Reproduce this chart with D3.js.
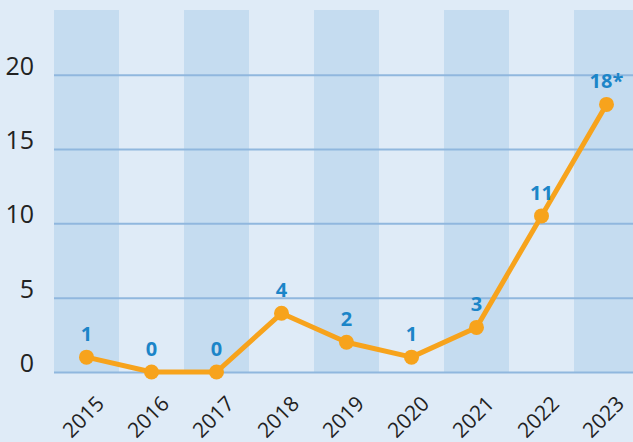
<!DOCTYPE html>
<html><head><meta charset="utf-8">
<script src="https://cdn.jsdelivr.net/npm/d3@7"></script>
<style>html,body{margin:0;padding:0;background:#dfebf7;overflow:hidden}</style>
</head><body>
<script>
const years = ["2015","2016","2017","2018","2019","2020","2021","2022","2023"];
const values = [1, 0, 0, 3.95, 2, 1, 3, 10.5, 18];
const valueLabels = ["1","0","0","4","2","1","3","11","18*"];
const yTicks = [0, 5, 10, 15, 20];

const W = 633, H = 442;
const svg = d3.select("body").append("svg").attr("width", W).attr("height", H);
svg.append("rect").attr("width", W).attr("height", H).attr("fill", "#dfebf7");

const x = d3.scaleBand().domain(years).range([54, 639]).padding(0);
const y = d3.scaleLinear().domain([0, 24.35]).range([372, 10]);

// alternating bands
svg.append("g").selectAll("rect").data(years.filter((d, i) => i % 2 === 0)).join("rect")
  .attr("x", d => x(d)).attr("y", y(24.35)).attr("width", x.bandwidth())
  .attr("height", y(0) - y(24.35)).attr("fill", "#c5dcf0");

// gridlines
const yAxis = d3.axisLeft(y).tickValues(yTicks).tickSize(0).tickPadding(0);
const gy = svg.append("g").attr("transform", "translate(54,0)").call(yAxis);
gy.select(".domain").remove();
gy.selectAll(".tick line").attr("x2", W).attr("stroke", "#90b7de").attr("stroke-width", 2);
gy.selectAll(".tick text").attr("x", -20).attr("dy", "-0.02em")
  .attr("fill", "#222").attr("font-family", "Open Sans, sans-serif").attr("font-size", 25)
  .attr("text-anchor", "end").attr("dominant-baseline", "auto");

// x axis
const xAxis = d3.axisBottom(x).tickSize(0).tickPadding(0);
const gx = svg.append("g").attr("transform", "translate(0,372)").call(xAxis);
gx.select(".domain").remove();
gx.selectAll(".tick text")
  .attr("fill", "#222").attr("font-family", "Open Sans, sans-serif").attr("font-size", 21)
  .attr("text-anchor", "end").attr("dy", 0).attr("y", 0)
  .attr("transform", "translate(19,33) rotate(-45)");

// line
const pts = years.map((d, i) => ({ year: d, v: values[i], label: valueLabels[i] }));
const line = d3.line().x(d => x(d.year) + x.bandwidth() / 2).y(d => y(d.v));
svg.append("path").datum(pts).attr("d", line).attr("fill", "none")
  .attr("stroke", "#f7a31c").attr("stroke-width", 5).attr("stroke-linejoin", "round");
svg.append("g").selectAll("circle").data(pts).join("circle")
  .attr("cx", d => x(d.year) + x.bandwidth() / 2).attr("cy", d => y(d.v)).attr("r", 7.5)
  .attr("fill", "#f7a31c");
svg.append("g").selectAll("text").data(pts).join("text")
  .attr("x", d => x(d.year) + x.bandwidth() / 2)
  .attr("y", d => y(d.v) - 16)
  .attr("text-anchor", "middle").attr("fill", "#1b85c8")
  .attr("font-family", "Open Sans, sans-serif").attr("font-weight", "bold").attr("font-size", 20)
  .text(d => d.label);
</script>
</body></html>
